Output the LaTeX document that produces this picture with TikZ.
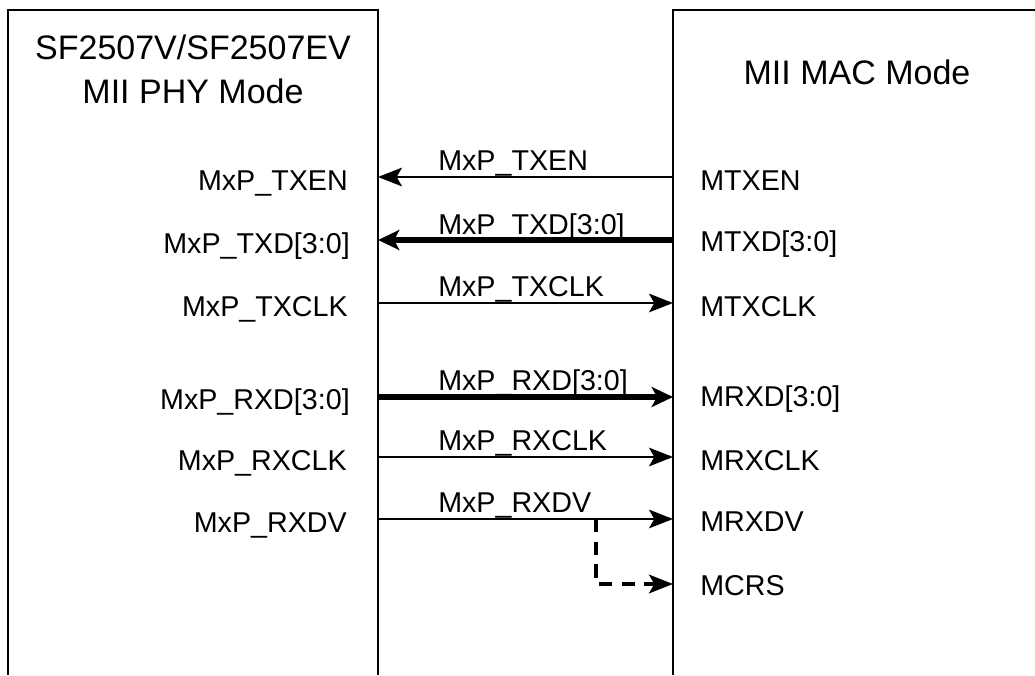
\documentclass[tikz,border=0pt]{standalone}
\usepackage{fontspec}
\setmainfont{Liberation Sans}
\usetikzlibrary{arrows.meta}

\begin{document}
\begin{tikzpicture}[x=0.75pt,y=-0.75pt,
    box/.style={line width=1.7pt},
    sig/.style={line width=1.5pt,-{Stealth[length=18pt,width=14pt,inset=4pt]}},
    bus/.style={line width=3.8pt,-{Stealth[length=16pt,width=15pt,inset=4pt]}},
    pin/.style={font=\fontsize{21.5}{25}\selectfont,inner sep=0pt},
    title/.style={font=\fontsize{25.5}{30}\selectfont,inner sep=0pt}]
    \useasboundingbox (0,0) rectangle (1035,675);

    % blocchi
    \draw[box] (8,675) -- (8,10) -- (378,10) -- (378,675);
    \draw[box] (673,675) -- (673,10) -- (1040,10);

    % titoli
    \node[title] (phyA) at (193,47) {SF2507V/SF2507EV};
    \node[title] (phyB) at (193,91) {MII PHY Mode};
    \node[title] (mac) at (857,72) {MII MAC Mode};

    % punti sui bordi
    \foreach \name/\y in {txen/177,txd/240,txclk/303,rxd/397,rxclk/457,rxdv/519,crs/584} {
        \coordinate (l\name) at (378,\y);
        \coordinate (r\name) at (673,\y);
    }
    \coordinate (tap) at (596,519);
    \coordinate (bend) at (596,584);

    % pin lato PHY
    \node[pin,anchor=east] (ptxen) at (348,183) {MxP\_TXEN};
    \node[pin,anchor=east] (ptxd) at (350,246) {MxP\_TXD[3:0]};
    \node[pin,anchor=east] (ptxclk) at (348,309) {MxP\_TXCLK};
    \node[pin,anchor=east] (prxd) at (350,402) {MxP\_RXD[3:0]};
    \node[pin,anchor=east] (prxclk) at (347,463) {MxP\_RXCLK};
    \node[pin,anchor=east] (prxdv) at (347,525) {MxP\_RXDV};

    % pin lato MAC
    \node[pin,anchor=west] (mtxen) at (700,181) {MTXEN};
    \node[pin,anchor=west] (mtxd) at (700,244) {MTXD[3:0]};
    \node[pin,anchor=west] (mtxclk) at (700,307) {MTXCLK};
    \node[pin,anchor=west] (mrxd) at (700,399) {MRXD[3:0]};
    \node[pin,anchor=west] (mrxclk) at (700,461) {MRXCLK};
    \node[pin,anchor=west] (mrxdv) at (700,522) {MRXDV};
    \node[pin,anchor=west] (mcrs) at (700,586) {MCRS};

    % segnali
    \draw[sig] (rtxen) -- (ltxen);
    \draw[bus] (rtxd) -- (ltxd);
    \draw[sig] (ltxclk) -- (rtxclk);
    \draw[bus] (lrxd) -- (rrxd);
    \draw[sig] (lrxclk) -- (rrxclk);
    \draw[sig] (lrxdv) -- (rrxdv);
    \draw[sig,line width=2.3pt,dash pattern=on 10pt off 7pt] (tap) -- (bend) -- (rcrs);

    % nomi dei segnali
    \node[pin,anchor=base west] (stxen) at (438,170) {MxP\_TXEN};
    \node[pin,anchor=base west] (stxd) at (438,234) {MxP\_TXD[3:0]};
    \node[pin,anchor=base west] (stxclk) at (438,296) {MxP\_TXCLK};
    \node[pin,anchor=base west] (srxd) at (438,390) {MxP\_RXD[3:0]};
    \node[pin,anchor=base west] (srxclk) at (438,450) {MxP\_RXCLK};
    \node[pin,anchor=base west] (srxdv) at (438,512) {MxP\_RXDV};
\end{tikzpicture}
\end{document}
